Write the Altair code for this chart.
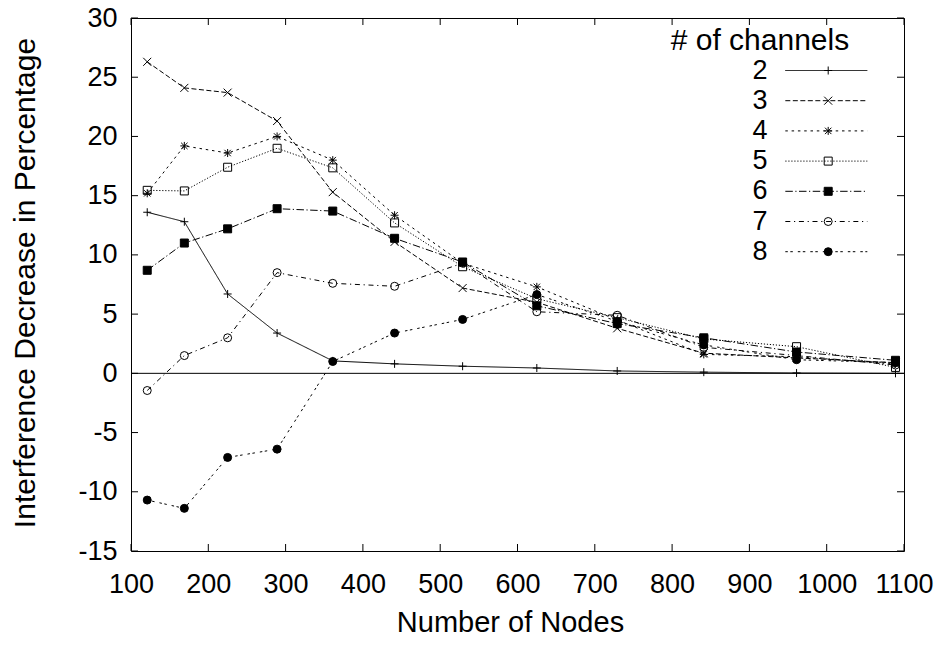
import altair as alt
import pandas as pd

# ---------------- data ----------------
nodes = [121, 169, 225, 289, 361, 441, 529, 625, 729, 841, 961, 1089]
channels = ["2", "3", "4", "5", "6", "7", "8"]

ch2 = [13.6, 12.8, 6.7, 3.4, 1.05, 0.8, 0.6, 0.45, 0.2, 0.1, 0.03, 0.0]
ch3 = [26.3, 24.1, 23.7, 21.3, 15.3, 11.1, 7.2, 6.0, 3.8, 1.7, 1.3, 0.9]
ch4 = [15.2, 19.2, 18.6, 20.0, 18.0, 13.35, 9.3, 7.3, 4.5, 1.6, 1.4, 0.8]
ch5 = [15.45, 15.4, 17.4, 19.0, 17.35, 12.7, 9.0, 6.3, 4.7, 2.9, 2.25, 0.5]
ch6 = [8.7, 11.0, 12.2, 13.9, 13.7, 11.4, 9.4, 5.7, 4.2, 3.0, 1.8, 1.1]
ch7 = [-1.45, 1.5, 3.0, 8.5, 7.6, 7.35, 9.3, 5.2, 4.9, 2.2, 1.5, 0.7]
ch8 = [-10.7, -11.4, -7.1, -6.4, 1.0, 3.4, 4.55, 6.65, 4.4, 2.4, 1.15, 0.9]
series = [ch2, ch3, ch4, ch5, ch6, ch7, ch8]

x_ticks = [100, 200, 300, 400, 500, 600, 700, 800, 900, 1000, 1100]
y_ticks = [-15, -10, -5, 0, 5, 10, 15, 20, 25, 30]
zero_line = [0]

markers = ["m" + c for c in channels]
rows = []
for ch, mk, vals in zip(channels, markers, series):
    for n, v in zip(nodes, vals):
        rows.append({"nodes": n, "value": v, "channel": ch, "marker": mk})
df = pd.DataFrame(rows)
xt = pd.DataFrame({"nodes": x_ticks})
yt = pd.DataFrame({"value": y_ticks})
zl = pd.DataFrame({"value": zero_line})

# ---------------- styles ----------------
FONT = "Liberation Sans"
FS = 27      # tick labels / legend labels
TFS = 29     # x title
W, H = 773, 533

dash_range = [[1, 0], [5, 2.5], [2.5, 3.8], [1.2, 1.8], [7.5, 2.5, 1.2, 2.5],
              [5, 3.7, 1.2, 3.7], [2.5, 2.5, 2.5, 5]]
plus = "M-1,0H1M0,-1V1"
cross = "M-1,-1L1,1M-1,1L1,-1"
star = "M-1,0H1M0,-1V1M-0.8,-0.8L0.8,0.8M-0.8,0.8L0.8,-0.8"
shape_range = [plus, cross, star, "square", "square", "circle", "circle"]
fill_range = ["transparent", "transparent", "transparent", "transparent",
              "black", "transparent", "black"]
stroke_range = ["black"] * 7

x_enc = alt.X("nodes:Q", scale=alt.Scale(domain=[100, 1100], nice=False, zero=False),
              axis=alt.Axis(values=x_ticks, title="Number of Nodes", grid=False,
                            domain=False, ticks=False, labelPadding=20,
                            labelOverlap=False, labelBound=False, labelFlush=False,
                            labelExpr="'' + datum.value",
                            titleX=379, titleY=80, titleBaseline="alphabetic"))
y_enc = alt.Y("value:Q", scale=alt.Scale(domain=[-15, 30], nice=False, zero=False),
              axis=alt.Axis(values=y_ticks, title="Interference Decrease in Percentage",
                            grid=False, domain=False, ticks=False, labelPadding=14,
                            labelOverlap=False, labelBound=False, labelFlush=False,
                            labelExpr="'' + datum.value", titleFontSize=30,
                            titleX=-106, titleY=H / 2 - 2, titleBaseline="middle"))

legend_a = alt.Legend(
    orient="none", legendX=539.7, legendY=8, padding=0,
    title="# of channels", titleFont=FONT, titleFontSize=30, titleFontWeight="normal",
    titleColor="black", titlePadding=1, titleLimit=400,
    labelFont=FONT, labelFontSize=FS, labelColor="black", labelAlign="right",
    labelOffset=69.9, rowPadding=2.2,
    symbolType="M12.33,0H22.33", symbolSize=269, symbolStrokeWidth=1,
    symbolStrokeColor="black", symbolFillColor="transparent")

legend_b = alt.Legend(
    orient="none", legendX=683.7, legendY=8, padding=0,
    title=" ", titleFont=FONT, titleFontSize=30, titleFontWeight="normal",
    titleColor="transparent", titlePadding=1, titleLimit=20,
    labelFont=FONT, labelFontSize=FS, labelColor="transparent", labelLimit=20,
    rowPadding=2.2, symbolSize=64, symbolStrokeWidth=1)

lines = alt.Chart(df).mark_line(color="black", strokeWidth=1).encode(
    x=x_enc, y=y_enc,
    strokeDash=alt.StrokeDash("channel:N", sort=channels,
                              scale=alt.Scale(domain=channels, range=dash_range),
                              legend=legend_a),
)

points = alt.Chart(df).mark_point(strokeWidth=1, size=64, opacity=1).encode(
    x="nodes:Q", y="value:Q",
    shape=alt.Shape("marker:N", sort=markers,
                    scale=alt.Scale(domain=markers, range=shape_range),
                    legend=legend_b),
    fill=alt.Fill("marker:N", sort=markers,
                  scale=alt.Scale(domain=markers, range=fill_range),
                  legend=legend_b),
    stroke=alt.Stroke("marker:N", sort=markers,
                      scale=alt.Scale(domain=markers, range=stroke_range),
                      legend=legend_b),
)

zero = alt.Chart(zl).mark_rule(color="black", strokeWidth=1).encode(y="value:Q")

tick_len = 7
xb = alt.Chart(xt).mark_rule(color="black", strokeWidth=1).encode(
    x="nodes:Q", y=alt.value(H), y2=alt.value(H - tick_len))
xtp = alt.Chart(xt).mark_rule(color="black", strokeWidth=1).encode(
    x="nodes:Q", y=alt.value(0), y2=alt.value(tick_len))
yl = alt.Chart(yt).mark_rule(color="black", strokeWidth=1).encode(
    y="value:Q", x=alt.value(0), x2=alt.value(tick_len))
yr = alt.Chart(yt).mark_rule(color="black", strokeWidth=1).encode(
    y="value:Q", x=alt.value(W), x2=alt.value(W - tick_len))

chart = alt.layer(lines, points, zero, xb, xtp, yl, yr).properties(
    width=W, height=H,
    autosize=alt.AutoSizeParams(type="none"),
    padding={"left": 123, "top": 10, "right": 34, "bottom": 86},
    background="white",
).configure_view(stroke="black", strokeWidth=1).configure_axis(
    labelFont=FONT, labelFontSize=FS, labelColor="black",
    titleFont=FONT, titleFontSize=TFS, titleFontWeight="normal", titleColor="black",
).configure_legend(labelFont=FONT, titleFont=FONT)

chart.save("out.html", embed_options={"renderer": "svg", "actions": False})
